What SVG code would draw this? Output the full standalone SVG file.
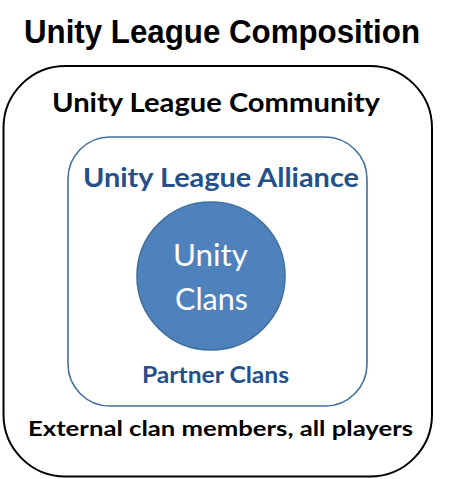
<svg xmlns="http://www.w3.org/2000/svg" width="454" height="479" viewBox="0 0 454 479">
<style>
.t{font-family:Lato,"Open Sans","Liberation Sans",sans-serif;font-weight:bold}
.blk{fill:#000}
.blu{fill:#23508A}
.wht{fill:#fff;font-family:Lato,"Open Sans","Liberation Sans",sans-serif;font-weight:normal}
</style>
<rect width="454" height="479" fill="#fff"/>
<g id="title">
<text x="24" y="43" font-family="'Liberation Sans',Arial,sans-serif" font-weight="bold" font-size="33" textLength="396" lengthAdjust="spacingAndGlyphs">Unity League Composition</text>
</g>
<g id="community">
<rect x="3.5" y="66" width="428.5" height="410.5" rx="62" ry="62" fill="#fff" stroke="#000" stroke-width="2"/>
<text class="t blk" x="52" y="112" font-size="27" textLength="328" lengthAdjust="spacingAndGlyphs">Unity League Community</text>
<text class="t blk" x="28" y="436" font-size="21.5" textLength="385" lengthAdjust="spacingAndGlyphs">External clan members, all players</text>
</g>
<g id="alliance">
<rect x="68" y="137" width="299" height="269" rx="42" ry="42" fill="#fff" stroke="#41719C" stroke-width="1.6"/>
<text class="t blu" x="83" y="187" font-size="27.5" textLength="276" lengthAdjust="spacingAndGlyphs">Unity League Alliance</text>
<text class="t blu" x="142" y="383" font-size="23" textLength="147" lengthAdjust="spacingAndGlyphs">Partner Clans</text>
</g>
<g id="clans">
<circle cx="211" cy="276" r="74" fill="#4F81BD" stroke="#41719C" stroke-width="1.6"/>
<text class="wht" x="210.5" y="266" font-size="31.5" text-anchor="middle" textLength="75" lengthAdjust="spacingAndGlyphs">Unity</text>
<text class="wht" x="211.5" y="310" font-size="31.5" text-anchor="middle" textLength="73" lengthAdjust="spacingAndGlyphs">Clans</text>
</g>
<g id="connectors"/>
</svg>
